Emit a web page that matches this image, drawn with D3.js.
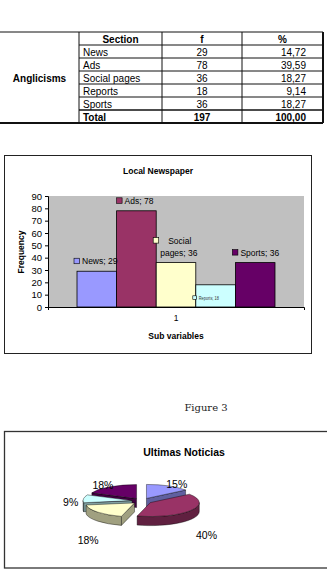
<!DOCTYPE html>
<html>
<head>
<meta charset="utf-8">
<script src="https://cdn.jsdelivr.net/npm/d3@7"></script>
<style>
  body { margin: 0; background: #fff; }
  svg { display: block; font-family: "Liberation Sans", Arial, sans-serif; }
</style>
</head>
<body>
<svg id="page" width="327" height="572"></svg>
<script>
// data
const sections = ['News', 'Ads', 'Social pages', 'Reports', 'Sports'];
const freq = [29, 78, 36, 18, 36];
const pct = ['14,72', '39,59', '18,27', '9,14', '18,27'];
const total = 197;
const totalPct = '100,00';
const colors = ['#9999FF', '#993366', '#FFFFCC', '#CCFFFF', '#660066'];
const yTicks = [0, 10, 20, 30, 40, 50, 60, 70, 80, 90];
const xCats = ['1'];

const svg = d3.select('#page');

// ---------- table ----------
const tbl = svg.append('g');
const colX = [0, 79, 162, 242, 323];
const rowY = d3.range(8).map((i) => 32 + 13 * i);

// horizontal lines
rowY.forEach((y, i) => {
  const full = i === 0 || i === 7;
  tbl.append('line')
    .attr('x1', full ? 0 : colX[1]).attr('x2', colX[4])
    .attr('y1', y).attr('y2', y)
    .attr('stroke', '#111')
    .attr('stroke-width', i === 7 ? 2 : i === 6 ? 1.5 : 1);
});
colX.slice(1).forEach((x, i) => {
  tbl.append('line')
    .attr('x1', x).attr('x2', x)
    .attr('y1', rowY[0]).attr('y2', rowY[7])
    .attr('stroke', '#111')
    .attr('stroke-width', i === 3 ? 2 : 1);
});

tbl.append('text')
  .attr('x', (colX[0] + colX[1]) / 2).attr('y', (rowY[0] + rowY[7]) / 2 + 4)
  .attr('text-anchor', 'middle').attr('font-weight', 'bold').attr('font-size', 10)
  .text('Anglicisms');

const headers = ['Section', 'f', '%'];
headers.forEach((h, i) => {
  tbl.append('text')
    .attr('x', (colX[i + 1] + colX[i + 2]) / 2).attr('y', rowY[0] + 10.5)
    .attr('text-anchor', 'middle').attr('font-weight', 'bold').attr('font-size', 10)
    .text(h);
});

const rows = sections.map((s, i) => [s, freq[i], pct[i]]).concat([['Total', total, totalPct]]);
rows.forEach((r, i) => {
  const y = rowY[i + 1] + 10.5;
  const bold = i === rows.length - 1 ? 'bold' : 'normal';
  tbl.append('text').attr('x', colX[1] + 4).attr('y', y)
    .attr('font-size', 10).attr('font-weight', bold).text(r[0]);
  tbl.append('text').attr('x', (colX[2] + colX[3]) / 2).attr('y', y)
    .attr('text-anchor', 'middle').attr('font-size', 10).attr('font-weight', bold).text(r[1]);
  tbl.append('text').attr('x', colX[4] - 17).attr('y', y)
    .attr('text-anchor', 'end').attr('font-size', 10).attr('font-weight', bold).text(r[2]);
});

// ---------- bar chart ----------
const bar = svg.append('g');
bar.append('rect')
  .attr('x', 4.5).attr('y', 155.5).attr('width', 307).attr('height', 198)
  .attr('fill', '#fff').attr('stroke', '#222').attr('stroke-width', 1);

const plot = { x0: 48, x1: 304, y0: 196, y1: 307 };
bar.append('rect')
  .attr('x', plot.x0).attr('y', plot.y0)
  .attr('width', plot.x1 - plot.x0).attr('height', plot.y1 - plot.y0)
  .attr('fill', '#C0C0C0');

const x0 = d3.scaleBand().domain(xCats).range([plot.x0, plot.x1]).paddingOuter(0.1465).paddingInner(0);
const x1 = d3.scaleBand().domain(sections).range([0, x0.bandwidth()]);
const y = d3.scaleLinear().domain([0, 90]).range([plot.y1, plot.y0]);

bar.selectAll('rect.bar')
  .data(sections)
  .join('rect')
  .attr('class', 'bar')
  .attr('x', (d) => x0('1') + x1(d))
  .attr('y', (d, i) => y(freq[i]))
  .attr('width', x1.bandwidth())
  .attr('height', (d, i) => y(0) - y(freq[i]))
  .attr('fill', (d, i) => colors[i])
  .attr('stroke', '#000').attr('stroke-width', 0.8);

// y axis
const yAxis = bar.append('g')
  .attr('transform', `translate(${plot.x0},0)`)
  .call(d3.axisLeft(y).tickValues(yTicks).tickSize(3).tickPadding(3));
yAxis.selectAll('text').attr('font-size', 9.5).attr('font-family', '"Liberation Sans", Arial, sans-serif').attr('fill', '#000');
yAxis.select('.domain').attr('stroke', '#000');
yAxis.selectAll('line').attr('stroke', '#000');

// x axis
const xAxis = bar.append('g')
  .attr('transform', `translate(0,${plot.y1})`)
  .call(d3.axisBottom(x0).tickSize(0).tickPadding(8).tickSizeOuter(3));
xAxis.selectAll('text').attr('font-size', 8.5).attr('font-family', '"Liberation Sans", Arial, sans-serif').attr('fill', '#000');
xAxis.select('.domain').attr('stroke', '#000');

bar.append('text').attr('x', 158).attr('y', 174)
  .attr('text-anchor', 'middle').attr('font-weight', 'bold').attr('font-size', 8.5)
  .text('Local Newspaper');
bar.append('text').attr('x', 176).attr('y', 339)
  .attr('text-anchor', 'middle').attr('font-weight', 'bold').attr('font-size', 8.5)
  .text('Sub variables');
bar.append('text')
  .attr('transform', 'translate(24,252) rotate(-90)')
  .attr('text-anchor', 'middle').attr('font-weight', 'bold').attr('font-size', 8.5)
  .text('Frequency');

// data labels
const minVal = d3.min(freq);
sections.forEach((s, i) => {
  const bx = x0('1') + x1(s);
  const small = freq[i] === minVal;
  const words = s.split(' ');
  const lines = words.length > 1 ? [words[0], words.slice(1).join(' ') + '; ' + freq[i]] : [s + '; ' + freq[i]];
  const baseY = small ? y(freq[i]) + 15 : y(freq[i]) - 7;
  const g = bar.append('g');
  const firstY = baseY - (lines.length - 1) * 12;
  const mx = bx - (i === 1 ? 0 : 3);
  g.append('rect')
    .attr('x', mx).attr('y', firstY - (small ? 4 : 6))
    .attr('width', small ? 3.5 : 5.5).attr('height', small ? 3.5 : 5.5)
    .attr('fill', colors[i]).attr('stroke', '#000').attr('stroke-width', 0.6);
  if (small) {
    g.append('text').attr('x', mx + 6).attr('y', firstY)
      .attr('font-size', 4.5).attr('textLength', 20).attr('lengthAdjust', 'spacingAndGlyphs')
      .attr('fill', '#333')
      .text(lines[0]);
  } else if (lines.length > 1) {
    g.append('text').attr('x', mx + 15).attr('y', firstY)
      .attr('font-size', 8.5).text(lines[0]);
    g.append('text').attr('x', mx + 7).attr('y', firstY + 12)
      .attr('font-size', 8.5).text(lines[1]);
  } else {
    g.append('text').attr('x', mx + 8).attr('y', firstY)
      .attr('font-size', 8.5).text(lines[0]);
  }
});

// ---------- figure caption ----------
svg.append('text').attr('x', 206).attr('y', 411)
  .attr('text-anchor', 'middle').attr('font-size', 10)
  .attr('font-family', '"DejaVu Serif", serif').attr('fill', '#222')
  .text('Figure 3');

// ---------- 3D pie ----------
const pieG = svg.append('g');
pieG.append('rect')
  .attr('x', 4.5).attr('y', 431.5).attr('width', 330).attr('height', 136.5)
  .attr('fill', '#fff').attr('stroke', '#333').attr('stroke-width', 1.3);
pieG.append('text').attr('x', 184).attr('y', 456)
  .attr('text-anchor', 'middle').attr('font-weight', 'bold').attr('font-size', 10.5)
  .text('Ultimas Noticias');

const cx = 142, cy = 501, rx = 49, ry = 14, depth = 9, explode = 10;
const arcs = d3.pie().sort(null).value((d) => d)(freq);
const pt = (a, ox, oy, dz) => [cx + ox + rx * Math.sin(a), cy + oy - ry * Math.cos(a) + (dz || 0)];

const slices = arcs.map((a, i) => {
  const mid = (a.startAngle + a.endAngle) / 2;
  return {
    i, a0: a.startAngle, a1: a.endAngle, mid,
    ox: explode * Math.sin(mid),
    oy: -explode * Math.cos(mid) * ry / rx,
  };
});
// paint back slices first
const order = slices.slice().sort((p, q) => -Math.cos(p.mid) + Math.cos(q.mid));

order.forEach((s) => {
  const top = colors[s.i];
  const side = d3.color(top).darker(1.3).formatHex();
  const c = [cx + s.ox, cy + s.oy];
  const g = pieG.append('g');
  // radial walls
  const walls = [];
  if (Math.sin(s.a0) < 0) walls.push(s.a0);
  if (Math.sin(s.a1) > 0) walls.push(s.a1);
  walls.forEach((a) => {
    const p = pt(a, s.ox, s.oy);
    g.append('path')
      .attr('d', `M${c[0]},${c[1]}L${p[0]},${p[1]}L${p[0]},${p[1] + depth}L${c[0]},${c[1] + depth}Z`)
      .attr('fill', side).attr('stroke', '#000').attr('stroke-width', 0.4);
  });
  // outer wall, front part only
  const b0 = Math.max(s.a0, Math.PI / 2);
  const b1 = Math.min(s.a1, Math.PI * 1.5);
  if (b1 > b0) {
    const p0 = pt(b0, s.ox, s.oy), p1 = pt(b1, s.ox, s.oy);
    g.append('path')
      .attr('d', `M${p0[0]},${p0[1]}A${rx},${ry} 0 0 1 ${p1[0]},${p1[1]}` +
        `L${p1[0]},${p1[1] + depth}A${rx},${ry} 0 0 0 ${p0[0]},${p0[1] + depth}Z`)
      .attr('fill', side).attr('stroke', '#000').attr('stroke-width', 0.4);
  }
  // top face
  const q0 = pt(s.a0, s.ox, s.oy), q1 = pt(s.a1, s.ox, s.oy);
  const large = s.a1 - s.a0 > Math.PI ? 1 : 0;
  g.append('path')
    .attr('d', `M${c[0]},${c[1]}L${q0[0]},${q0[1]}A${rx},${ry} 0 ${large} 1 ${q1[0]},${q1[1]}Z`)
    .attr('fill', top).attr('stroke', '#000').attr('stroke-width', 0.4);
});

// percentage labels
slices.forEach((s) => {
  const cm = Math.cos(s.mid);
  const sm = Math.sin(s.mid);
  const lx = cx + (sm > 0 ? 78 : 72) * sm;
  const ly = cy + depth / 2 - cm * (cm > 0 ? 24 : 52);
  pieG.append('text')
    .attr('x', lx).attr('y', ly + 4)
    .attr('text-anchor', 'middle').attr('font-size', 10.5)
    .text(Math.round(freq[s.i] / total * 100) + '%');
});
</script>
</body>
</html>
